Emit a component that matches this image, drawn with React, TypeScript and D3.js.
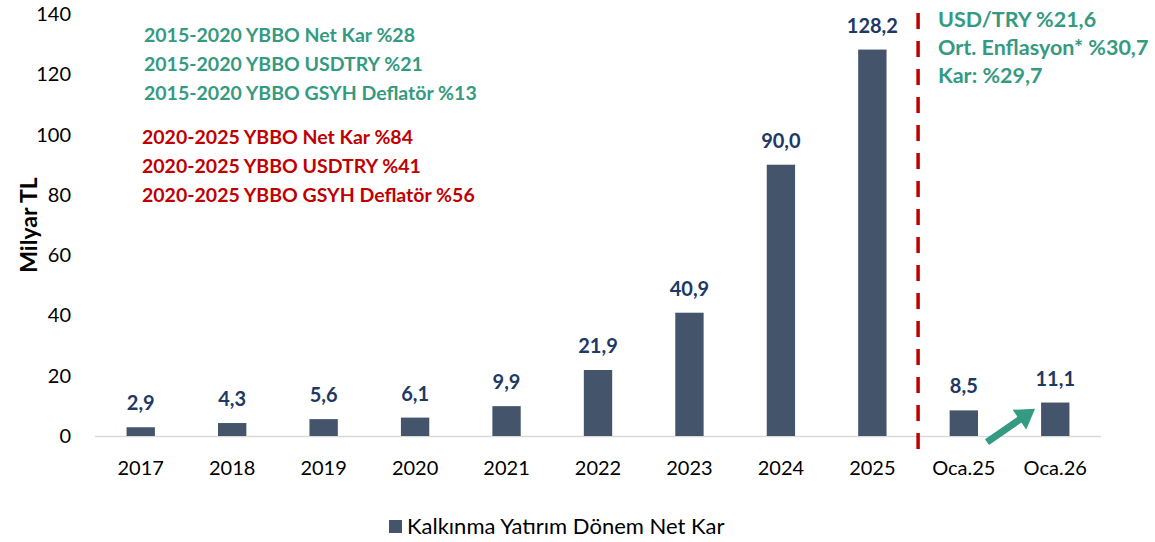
import React from "react";
import * as d3 from "d3";

const categories = ["2017", "2018", "2019", "2020", "2021", "2022", "2023", "2024", "2025", "Oca.25", "Oca.26"];
const netKar = [2.9, 4.3, 5.6, 6.1, 9.9, 21.9, 40.9, 90.0, 128.2, 8.5, 11.1];
const yTicks = [0, 20, 40, 60, 80, 100, 120, 140];
const greenNotes = [
  "2015-2020 YBBO Net Kar %28",
  "2015-2020 YBBO USDTRY %21",
  "2015-2020 YBBO GSYH Deflatör %13",
];
const redNotes = [
  "2020-2025 YBBO Net Kar %84",
  "2020-2025 YBBO USDTRY %41",
  "2020-2025 YBBO GSYH Deflatör %56",
];
const rightNotes = ["USD/TRY %21,6", "Ort. Enflasyon* %30,7", "Kar: %29,7"];
const seriesName = "Kalkınma Yatırım Dönem Net Kar";

const W = 1155;
const H = 542;
const FONT = "Lato, 'Open Sans', sans-serif";
const GREEN = "#349A81";
const RED = "#C00000";
const NAVY = "#203864";
const BAR = "#44546A";

const fmt = (v: number) => v.toFixed(1).replace(".", ",");

export default function App() {
  const x = d3
    .scaleBand<string>()
    .domain(categories)
    .range([95, 1101])
    .paddingInner(0.69)
    .paddingOuter(0.345);
  const y = d3.scaleLinear().domain([0, 140]).range([436, 14]);
  const step = x.step();
  const dividerX = (x("2025") as number) + x.bandwidth() / 2 + step / 2;

  const x0 = (x("Oca.25") as number) + x.bandwidth() + 9;
  const x1 = (x("Oca.26") as number) - 6;
  const y0 = y(-2);
  const y1 = y(9);
  const ang = Math.atan2(y1 - y0, x1 - x0);
  const len = Math.hypot(x1 - x0, y1 - y0);

  return (
    <svg width={W} height={H} style={{ position: "absolute", left: 0, top: 0, background: "#fff" }} fontFamily={FONT}>
      <rect x={0} y={0} width={W} height={H} fill="#fff" />
      {/* axis line */}
      <line x1={95} x2={1101} y1={y(0) + 0.5} y2={y(0) + 0.5} stroke="#D9D9D9" strokeWidth={1.5} />
      {/* y ticks */}
      {yTicks.map((t) => (
        <text key={t} x={71} y={y(t) + 7} textAnchor="end" fontSize={20} fill="#000">
          {t}
        </text>
      ))}
      <text
        transform={`translate(37,225) rotate(-90)`}
        textAnchor="middle"
        fontSize={23}
        fontWeight={700}
        fill="#000"
      >
        Milyar TL
      </text>
      {/* bars */}
      {categories.map((c, i) => (
        <g key={c}>
          <rect
            x={x(c)}
            y={y(netKar[i])}
            width={x.bandwidth()}
            height={y(0) - y(netKar[i])}
            fill={BAR}
          />
          <text
            x={(x(c) as number) + x.bandwidth() / 2}
            y={y(netKar[i]) - 17}
            textAnchor="middle"
            fontSize={20}
            fontWeight={700}
            fill={NAVY}
          >
            {fmt(netKar[i])}
          </text>
          <text
            x={(x(c) as number) + x.bandwidth() / 2}
            y={475}
            textAnchor="middle"
            fontSize={20}
            fill="#000"
          >
            {c}
          </text>
        </g>
      ))}
      {/* divider */}
      <line
        x1={dividerX}
        x2={dividerX}
        y1={13}
        y2={450}
        stroke={RED}
        strokeWidth={3.5}
        strokeDasharray="16 12"
      />
      {/* notes */}
      {greenNotes.map((t, i) => (
        <text key={t} x={144} y={42 + i * 29} fontSize={19.5} fontWeight={700} fill={GREEN}>
          {t}
        </text>
      ))}
      {redNotes.map((t, i) => (
        <text key={t} x={142} y={144 + i * 29} fontSize={19.5} fontWeight={700} fill={RED}>
          {t}
        </text>
      ))}
      {rightNotes.map((t, i) => (
        <text key={t} x={938} y={27 + i * 28} fontSize={21.5} fontWeight={700} fill={GREEN}>
          {t}
        </text>
      ))}
      {/* arrow */}
      <g transform={`translate(${x0},${y0}) rotate(${(ang * 180) / Math.PI})`}>
        <rect x={0} y={-3.5} width={len - 14} height={7} fill={GREEN} />
        <path d={`M${len - 19},-12 L${len},0 L${len - 19},12 Z`} fill={GREEN} />
      </g>
      {/* legend */}
      <rect x={389} y={520} width={13} height={13} fill={BAR} />
      <text x={407} y={534} fontSize={22} fill="#000">
        {seriesName}
      </text>
    </svg>
  );
}
